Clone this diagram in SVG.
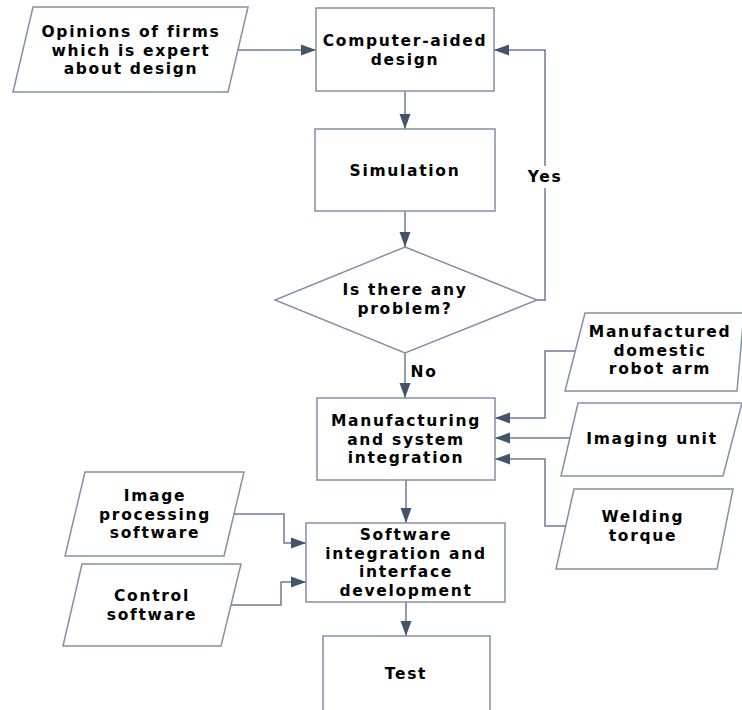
<svg xmlns="http://www.w3.org/2000/svg" width="742" height="710" viewBox="0 0 742 710">
<defs>
<style>
.shape{fill:#ffffff;stroke:#8490a6;stroke-width:1.5}
.t{font-family:"DejaVu Sans",sans-serif;font-weight:bold;font-size:15.5px;letter-spacing:1.7px;fill:#000;text-anchor:middle}
.c{fill:none;stroke:#6d7b92;stroke-width:1.5}
</style>
<marker id="ah" markerUnits="userSpaceOnUse" markerWidth="16" markerHeight="12" viewBox="0 0 16 12" refX="15" refY="6" orient="auto">
<path d="M0,0.5 L15,6 L0,11.5 z" fill="#44546a"/>
</marker>
</defs>
<rect width="742" height="710" fill="#ffffff"/>
<g id="connectors">
<path class="c" d="M238,50 L316,50" marker-end="url(#ah)"/>
<path class="c" d="M405,91 L405,129" marker-end="url(#ah)"/>
<path class="c" d="M405,211 L405,247" marker-end="url(#ah)"/>
<path class="c" d="M537,300 L545,300 L545,50 L494,50" marker-end="url(#ah)"/>
<path class="c" d="M405,353 L405,398" marker-end="url(#ah)"/>
<path class="c" d="M576,351 L545,351 L545,418 L495,418" marker-end="url(#ah)"/>
<path class="c" d="M570,438 L495,438" marker-end="url(#ah)"/>
<path class="c" d="M566,526 L545,526 L545,459 L495,459" marker-end="url(#ah)"/>
<path class="c" d="M406,480 L406,523" marker-end="url(#ah)"/>
<path class="c" d="M234,514 L284,514 L284,543 L306,543" marker-end="url(#ah)"/>
<path class="c" d="M231,605 L281,605 L281,582 L306,582" marker-end="url(#ah)"/>
<path class="c" d="M406,602 L406,636" marker-end="url(#ah)"/>
<rect x="525" y="166" width="40" height="22" fill="#ffffff"/>
<text class="t" x="545" y="182">Yes</text>
<text class="t" x="424" y="377">No</text>
</g>
<g id="opinions">
<polygon class="shape" points="33,7 248,7 228,92 13,92"/>
<text class="t" x="131" y="37">Opinions of firms</text>
<text class="t" x="131" y="55.5">which is expert</text>
<text class="t" x="131" y="74">about design</text>
</g>
<g id="cad">
<rect class="shape" x="316" y="8" width="178" height="83"/>
<text class="t" x="405" y="46">Computer-aided</text>
<text class="t" x="405" y="64.5">design</text>
</g>
<g id="simulation">
<rect class="shape" x="315" y="129" width="180" height="82"/>
<text class="t" x="405" y="176">Simulation</text>
</g>
<g id="decision">
<polygon class="shape" points="405,247 537,300 405,353 275,300"/>
<text class="t" x="405" y="295">Is there any</text>
<text class="t" x="405" y="313.5">problem?</text>
</g>
<g id="manufacturing">
<rect class="shape" x="317" y="398" width="178" height="82"/>
<text class="t" x="406" y="426">Manufacturing</text>
<text class="t" x="406" y="444.5">and system</text>
<text class="t" x="406" y="463">integration</text>
</g>
<g id="robotarm">
<polygon class="shape" points="585,313 744,313 737,391 565,391"/>
<text class="t" x="660" y="337">Manufactured</text>
<text class="t" x="660" y="355.5">domestic</text>
<text class="t" x="660" y="374">robot arm</text>
</g>
<g id="imaging">
<polygon class="shape" points="578,403 742,403 723,476 561,476"/>
<text class="t" x="652" y="444">Imaging unit</text>
</g>
<g id="welding">
<polygon class="shape" points="574,489 733,489 717,569 556,569"/>
<text class="t" x="643" y="522">Welding</text>
<text class="t" x="643" y="540.5">torque</text>
</g>
<g id="software">
<rect class="shape" x="306" y="523" width="199" height="79"/>
<text class="t" x="406" y="540">Software</text>
<text class="t" x="406" y="558.5">integration and</text>
<text class="t" x="406" y="577">interface</text>
<text class="t" x="406" y="595.5">development</text>
</g>
<g id="imageproc">
<polygon class="shape" points="85,472 244,472 224,556 65,556"/>
<text class="t" x="155" y="501">Image</text>
<text class="t" x="155" y="519.5">processing</text>
<text class="t" x="155" y="538">software</text>
</g>
<g id="control">
<polygon class="shape" points="82,564 241,564 221,646 63,646"/>
<text class="t" x="152" y="601">Control</text>
<text class="t" x="152" y="619.5">software</text>
</g>
<g id="test">
<rect class="shape" x="323" y="636" width="167" height="90"/>
<text class="t" x="406" y="679">Test</text>
</g>
</svg>
